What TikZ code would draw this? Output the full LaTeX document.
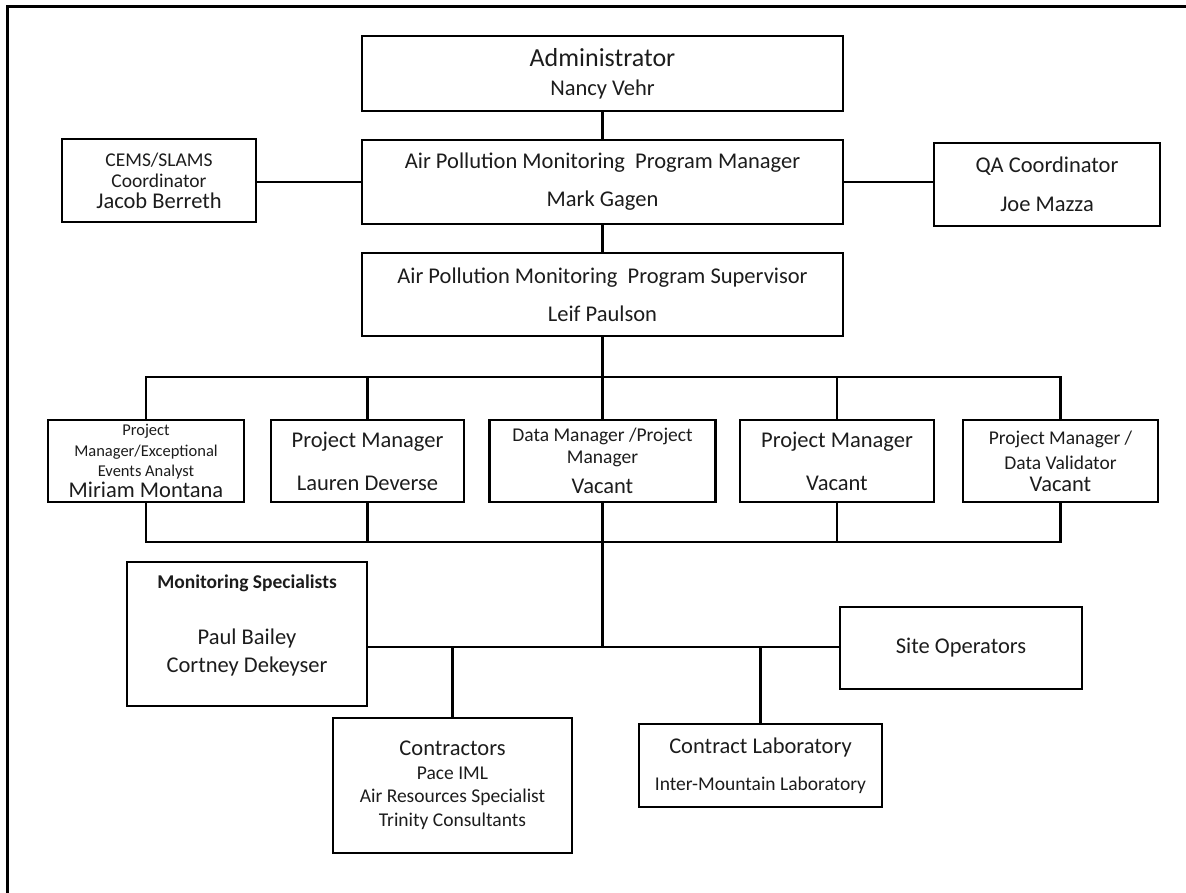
\documentclass[tikz,border=0pt]{standalone}
\usepackage{fontspec}
\setmainfont{Carlito}
\usepackage{xcolor}
\usetikzlibrary{positioning}
\definecolor{chartInk}{HTML}{1C1C1C}
\newcommand\sizeTitle{\fontsize{26}{30}\selectfont}
\newcommand\sizeRole{\fontsize{19.5}{23}\selectfont}
\newcommand\sizeTiny{\fontsize{16.5}{20}\selectfont}

\begin{document}
\begin{tikzpicture}[x=1pt, y=-1pt,
  role/.style={draw=black, line width=2.8pt, align=center, inner sep=0pt, text=chartInk},
  lines/.style={font=\fontsize{22.5}{#1}\selectfont},
  link/.style={draw=black, line width=2.4pt, line cap=rect}]
  \useasboundingbox (0,0) rectangle (1186,893);
  \draw[line width=3pt] (7,893) -- (7,7) -- (1186,7);

  % top of the chart
  \node[role, lines=29, minimum width=481, minimum height=75] (admin) at (602.5,73.5) {{\sizeTitle Administrator}\\Nancy Vehr};
  \node[role, lines=38, minimum width=481, minimum height=84] (progManager) at (602.5,182) {Air Pollution Monitoring\ \ Program Manager\\Mark Gagen};
  \node[role, lines=21, minimum width=194, minimum height=83] (cems) at (159,180.5) {{\sizeRole CEMS/SLAMS}\\{\sizeRole Coordinator}\\Jacob Berreth};
  \node[role, lines=39, minimum width=226, minimum height=83] (qa) at (1047,184.5) {QA Coordinator\\Joe Mazza};
  \node[role, lines=38, minimum width=481, minimum height=83] (supervisor) at (602.5,294.5) {Air Pollution Monitoring\ \ Program Supervisor\\Leif Paulson};

  % project managers
  \node[role, lines=20.5, minimum width=196, minimum height=82] (pmMiriam) at (146,461) {{\sizeTiny Project}\\{\sizeTiny Manager/Exceptional}\\{\sizeTiny Events Analyst}\\Miriam\ Montana};
  \node[role, lines=43, minimum width=193, minimum height=82] (pmLauren) at (367.5,461) {Project Manager\\Lauren Deverse};
  \node[role, lines=22, minimum width=226, minimum height=82] (dataMgr) at (602.5,461) {{\sizeRole Data Manager /Project}\\{\sizeRole Manager}\\[8pt]Vacant};
  \node[role, lines=43, minimum width=194, minimum height=82] (pmVacant) at (837,461) {Project Manager\\Vacant};
  \node[role, lines=22, minimum width=195, minimum height=82] (pmValidator) at (1060.5,461) {{\sizeRole Project Manager /}\\[3pt]{\sizeRole Data Validator}\\Vacant};

  % field staff
  \node[role, lines=28, minimum width=240, minimum height=144] (specialists) at (247,634) {{\sizeRole\bfseries Monitoring Specialists}\\[28pt]Paul Bailey\\Cortney Dekeyser\\[-8pt]\mbox{}};
  \node[role, lines=27, minimum width=242, minimum height=82] (siteOps) at (961,648) {Site Operators};
  \node[role, lines=23.5, minimum width=239, minimum height=135] (contractors) at (452.5,785.5) {Contractors\\{\sizeRole Pace IML}\\{\sizeRole Air Resources Specialist}\\{\sizeRole Trinity Consultants}};
  \node[role, lines=37, minimum width=243, minimum height=83] (contractLab) at (760.5,765.5) {Contract Laboratory\\{\sizeRole Inter-Mountain Laboratory}};

  \coordinate (upperBus) at (602.5,377);
  \coordinate (lowerBus) at (602.5,542);
  \coordinate (fieldBus) at (602.5,647);

  \draw[link] (admin) -- (progManager);
  \draw[link] (progManager) -- (supervisor);
  \draw[link] (cems.east |- progManager) -- (progManager.west);
  \draw[link] (progManager.east) -- (qa.west |- progManager);
  \draw[link] (supervisor.south) -- (upperBus);
  \draw[link] (pmMiriam.north |- upperBus) -- (pmValidator.north |- upperBus);
  \draw[link] (pmMiriam.south |- lowerBus) -- (pmValidator.south |- lowerBus);
  \foreach \who in {pmMiriam,pmLauren,dataMgr,pmVacant,pmValidator} {
    \draw[link] (\who.north) -- (\who.north |- upperBus);
    \draw[link] (\who.south) -- (\who.south |- lowerBus);
  }
  \draw[link] (lowerBus) -- (fieldBus);
  \draw[link] (specialists.east |- fieldBus) -- (siteOps.west |- fieldBus);
  \draw[link] (contractors.north) -- (contractors.north |- fieldBus);
  \draw[link] (contractLab.north) -- (contractLab.north |- fieldBus);
\end{tikzpicture}
\end{document}
